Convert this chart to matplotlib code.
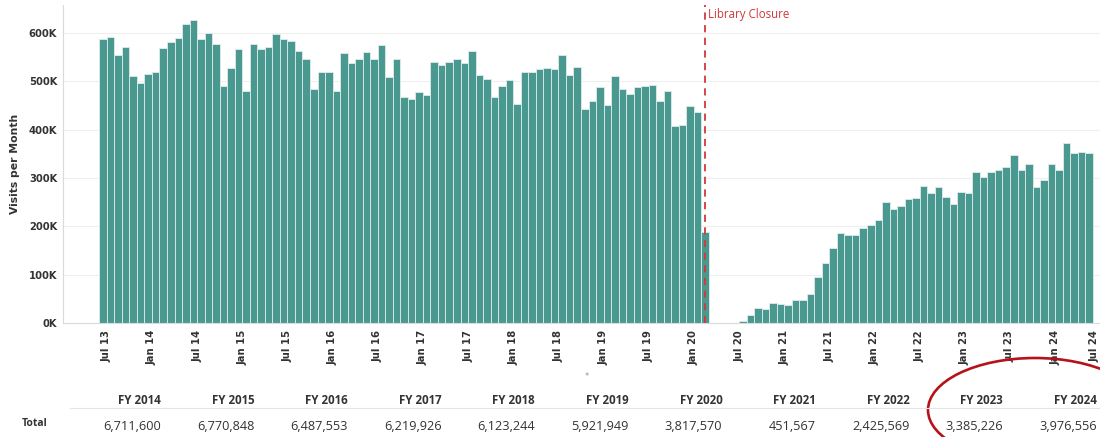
import matplotlib
matplotlib.use("Agg")
import matplotlib.pyplot as plt
from matplotlib.patches import Ellipse
import pandas as pd
import numpy as np

# ---- data: monthly visits (thousands), fiscal years run Jul..Jun ----
fy_labels = ["FY 2014", "FY 2015", "FY 2016", "FY 2017", "FY 2018", "FY 2019",
             "FY 2020", "FY 2021", "FY 2022", "FY 2023", "FY 2024"]
fy2014 = [588, 592, 554, 572, 512, 497, 516, 519, 570, 581, 589, 619]
fy2015 = [626, 588, 601, 578, 491, 528, 567, 480, 578, 566, 572, 599]
fy2016 = [588, 584, 563, 547, 484, 519, 519, 481, 559, 539, 547, 560]
fy2017 = [547, 575, 508, 546, 468, 464, 478, 472, 541, 533, 541, 547]
fy2018 = [538, 563, 514, 504, 467, 491, 503, 454, 519, 519, 526, 527]
fy2019 = [526, 554, 514, 530, 442, 459, 488, 452, 511, 485, 474, 488]
fy2020 = [490, 492, 459, 481, 408, 410, 449, 437, 188, None, None, None]
fy2021 = [None, 4, 16, 32, 29, 41, 40, 38, 48, 47, 61, 96]
fy2022 = [124, 156, 186, 183, 182, 196, 203, 213, 251, 236, 243, 256]
fy2023 = [259, 283, 268, 282, 260, 246, 271, 269, 312, 302, 312, 317]
fy2024 = [323, 347, 317, 330, 281, 296, 330, 317, 372, 352, 353, 352]
fy_totals = [6711600, 6770848, 6487553, 6219926, 6123244, 5921949,
             3817570, 451567, 2425569, 3385226, 3976556]
start_month = "2013-07"
closure_month = "2020-03"
closure_label = "Library Closure"

monthly = fy2014 + fy2015 + fy2016 + fy2017 + fy2018 + fy2019 + fy2020 + fy2021 + fy2022 + fy2023 + fy2024
months = pd.date_range(start_month, periods=len(monthly), freq="MS")
n = len(monthly)
xpos = np.arange(n)
vals = np.array([np.nan if v is None else v * 1000 for v in monthly], dtype=float)

BAR = "#4a9990"
RED = "#d0393b"
TXT = "#333333"

fig = plt.figure(figsize=(11, 4.37), dpi=100)
ax = fig.add_axes([62.7 / 1100, 1 - 323 / 437, 1 - 62.7 / 1100, (323 - 5) / 437])

mask = ~np.isnan(vals)
ax.bar(xpos[mask], vals[mask], width=1.0, color=BAR, edgecolor="#dfeceb",
       linewidth=0.6, zorder=2)

ax.set_xlim(-5.36, 132.46)
ax.set_ylim(0, 658000)

yt = np.arange(0, 600001, 100000)
ax.set_yticks(yt)
ax.set_yticklabels([f"{int(v // 1000)}K" for v in yt], fontsize=7.2,
                   fontweight="bold", color=TXT)
ax.yaxis.grid(True, color="#efefef", linewidth=0.8, zorder=0)
ax.set_axisbelow(True)

# x ticks: Jan / Jul of each year, placed at the end of the month slot
tick_idx = [i for i, m in enumerate(months) if m.month in (1, 7)]
tick_idx.append(n)  # Jul 24 (end of axis)
all_months = pd.date_range(start_month, periods=n + 1, freq="MS")
tick_pos = [min(i + 0.5, 131.7) for i in tick_idx]
tick_lab = [all_months[i].strftime("%b %y") for i in tick_idx]
ax.set_xticks(tick_pos)
ax.set_xticklabels(tick_lab, rotation=90, fontsize=7.2, fontweight="bold",
                   color=TXT, va="top")
ax.tick_params(axis="both", length=0, pad=4)
ax.tick_params(axis="x", pad=5)

for s in ["top", "right"]:
    ax.spines[s].set_visible(False)
for s in ["left", "bottom"]:
    ax.spines[s].set_color("#dadada")
    ax.spines[s].set_linewidth(0.8)

ax.set_ylabel("Visits per Month", fontsize=7.8, fontweight="bold", color=TXT)
ax.yaxis.set_label_coords(-0.041, 0.5)

# closure marker
ci = int(np.where(months == pd.Timestamp(closure_month))[0][0])
ax.axvline(ci, color=RED, linestyle=(0, (4, 3)), linewidth=1.3, zorder=3)
ax.text(ci + 0.4, 639000, closure_label, color=RED, fontsize=8.3,
        family="Open Sans", va="center", ha="left")

# ---- overlay for the totals table and annotation ----
ov = fig.add_axes([0, 0, 1, 1], zorder=5)
ov.set_xlim(0, 1100)
ov.set_ylim(437, 0)
ov.axis("off")
ov.patch.set_alpha(0)

ov.plot([70, 1100], [407.7, 407.7], color="#e4e4e4", linewidth=0.8)
ov.text(22, 424, "Total", fontsize=7.5, fontweight="bold", family="Open Sans",
        color=TXT, ha="left", va="center")
for k, (lab, tot) in enumerate(zip(fy_labels, fy_totals)):
    xr = 160.7 + 93.6 * k
    ov.text(xr, 401, lab, fontsize=8.3, fontweight="bold", family="Open Sans",
            color=TXT, ha="right", va="center")
    ov.text(xr, 426, f"{tot:,}", fontsize=9.2, family="Open Sans",
            color=TXT, ha="right", va="center")

ov.text(587, 377, "*", fontsize=6, color="#999999", ha="center", va="center")

ell = Ellipse((1035, 410), 214, 104, angle=0, fill=False, edgecolor="#b5121b",
              linewidth=1.9)
ov.add_patch(ell)

fig.savefig("out.png", dpi=100)
